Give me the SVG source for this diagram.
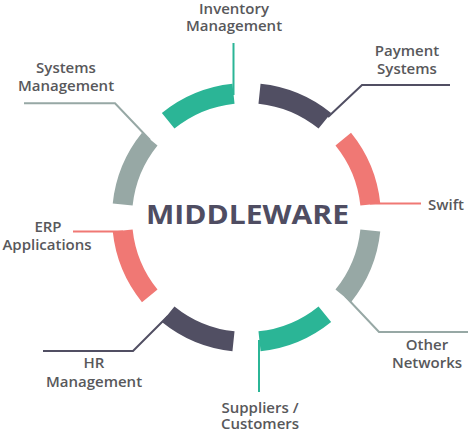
<svg xmlns="http://www.w3.org/2000/svg" width="470" height="432" viewBox="0 0 470 432">
<style>
.seg{fill:none;stroke-width:20;stroke-linecap:butt}
.ln{fill:none;stroke-width:2}
.g{stroke:#2bb596}.d{stroke:#514f63}.s{stroke:#f07874}.y{stroke:#97a8a5}
.lbl{font-family:"Open Sans","Liberation Sans",sans-serif;font-weight:600;font-size:15px;fill:#58585b;text-anchor:middle}
.title{font-family:"Open Sans","Liberation Sans",sans-serif;font-weight:700;font-size:27px;fill:#4f4d62;text-anchor:middle}
</style>
<rect width="470" height="432" fill="#ffffff"/>
<g id="connectors">
<path class="ln g" d="M233.5,43 V95"/>
<path class="ln d" d="M328,117 L362,85 H450"/>
<path class="ln s" d="M370,203.5 H421"/>
<path class="ln y" d="M345,296 L379,332 H468"/>
<path class="ln g" d="M259,340 V392"/>
<path class="ln d" d="M168,316 L133,351 H43"/>
<path class="ln s" d="M73,231.5 H123"/>
<path class="ln y" d="M150,140 L115,103.3 H24"/>
</g>
<g id="inventory">
<path class="seg g" d="M168.15,120.75 A124.5,124.5 0 0 1 233.49,93.68"/>
<text class="lbl" x="234" y="14">Inventory</text>
<text class="lbl" x="234" y="31">Management</text>
</g>
<g id="payment">
<path class="seg d" d="M259.51,93.68 A124.5,124.5 0 0 1 324.85,120.75"/>
<text class="lbl" x="407" y="56">Payment</text>
<text class="lbl" x="407" y="74">Systems</text>
</g>
<g id="swift">
<path class="seg s" d="M343.25,139.15 A124.5,124.5 0 0 1 370.32,204.49"/>
<text class="lbl" x="446" y="210">Swift</text>
</g>
<g id="other">
<path class="seg y" d="M370.32,230.51 A124.5,124.5 0 0 1 343.25,295.85"/>
<text class="lbl" x="427" y="350">Other</text>
<text class="lbl" x="427" y="368">Networks</text>
</g>
<g id="suppliers">
<path class="seg g" d="M324.85,314.25 A124.5,124.5 0 0 1 259.51,341.32"/>
<text class="lbl" x="260" y="413">Suppliers /</text>
<text class="lbl" x="260" y="429">Customers</text>
</g>
<g id="hr">
<path class="seg d" d="M233.49,341.32 A124.5,124.5 0 0 1 168.15,314.25"/>
<text class="lbl" x="94" y="368">HR</text>
<text class="lbl" x="94" y="387">Management</text>
</g>
<g id="erp">
<path class="seg s" d="M149.75,295.85 A124.5,124.5 0 0 1 122.68,230.51"/>
<text class="lbl" x="48" y="232">ERP</text>
<text class="lbl" x="47" y="250">Applications</text>
</g>
<g id="systems">
<path class="seg y" d="M122.68,204.49 A124.5,124.5 0 0 1 149.75,139.15"/>
<text class="lbl" x="66" y="73">Systems</text>
<text class="lbl" x="66" y="91">Management</text>
</g>
<g id="middleware">
<text class="title" x="247.5" y="224" textLength="203" lengthAdjust="spacingAndGlyphs">MIDDLEWARE</text>
</g>
</svg>
